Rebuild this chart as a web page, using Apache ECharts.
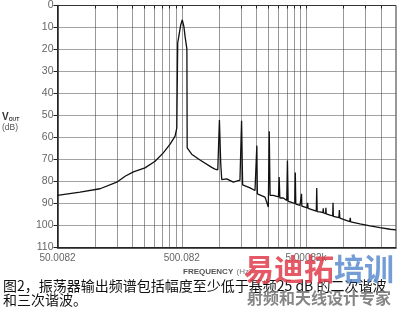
<!DOCTYPE html>
<html>
<head>
<meta charset="utf-8">
<style>
html,body{margin:0;padding:0;background:#fff;}
#chart{width:400px;height:311px;}
</style>
<script src="https://cdn.jsdelivr.net/npm/echarts@6/dist/echarts.min.js"></script>
</head>
<body>
<div id="chart"></div>
<script>
// Spectrum trace: frequency (Hz) and level (dB below reference)
var freqHz = [50.0082, 76, 110, 150, 175, 204, 253, 305, 355, 403, 442, 456, 464, 490, 505, 520, 531, 550, 553, 565, 601, 701, 871, 926, 975, 1005, 1030, 1049, 1150, 1300, 1470, 1515, 1545, 1564, 1772, 1943, 1990, 2010, 2030, 2066, 2339, 2487, 2530, 2570, 2728, 3000, 3040, 3080, 3283, 3500, 3545, 3590, 3730, 4060, 4100, 4140, 4475, 4570, 4600, 4630, 5100, 5150, 5200, 5385, 6050, 6100, 6150, 6485, 6850, 6880, 6920, 7200, 7230, 7270, 7805, 8200, 8250, 8300, 9200, 9280, 9360, 11250, 11350, 11450, 13600, 16370, 19700, 23700, 26500];
var levelDb = [86.3, 84.8, 83.3, 80.3, 77.6, 75.6, 73.8, 70.8, 67, 63, 59.4, 55.7, 17, 9, 6.5, 9.5, 13.8, 19.8, 64.7, 65.4, 67.6, 70.2, 73.6, 74.4, 74.7, 52, 72, 79.1, 78.8, 80.3, 79.4, 52.4, 81.5, 81.1, 82.9, 84.1, 85, 63.7, 85.6, 85.6, 87.1, 91.6, 57.2, 86.3, 86.3, 87, 78, 87.5, 87.5, 88.6, 70.5, 89, 89.3, 90, 75.9, 90.3, 90.8, 91, 85.6, 91.2, 92, 89.7, 92.2, 92.3, 93.5, 83, 93.7, 93.8, 94.2, 92.2, 94.3, 94.6, 92, 94.7, 95.3, 95.6, 89.7, 95.8, 96.4, 93, 96.6, 98.2, 96.5, 98.4, 99.3, 100.2, 101, 101.7, 102];

// Axis ticks
var xMin = 50.0082, xMax = 26500;
var xGridHz = [100.016, 150.025, 200.033, 250.041, 300.049, 350.057, 400.066, 450.074, 500.082,
               1000.16, 1500.25, 2000.33, 2500.41, 3000.49, 3500.57, 4000.66, 4500.74, 5000.82,
               10001.6, 15002.5, 20003.3];
var xLabelHz = [50.0082, 500.082, 5000.82];
var xLabelText = ['50.0082', '500.082', '5.00082k'];
var yMin = 0, yMax = 110, yStep = 10;
var yGridDb = [10, 20, 30, 40, 50, 60, 70, 80, 90, 100];

var traceData = freqHz.map(function (f, i) { return [f, levelDb[i]]; });
var lg = function (v) { return Math.log(v) / Math.LN10; };

// horizontal grid rules as broken line segments across the full frequency range
var hGridData = [];
yGridDb.forEach(function (v) {
  hGridData.push([xMin, v], [xMax, v], [xMax, '-']);
});

var chart = echarts.init(document.getElementById('chart'), null, {renderer: 'canvas'});
chart.setOption({
  animation: false,
  backgroundColor: '#fff',
  grid: {left: 57.5, top: 2.5, right: 4, bottom: 63.5, show: true, borderColor: '#333', borderWidth: 1, containLabel: false},
  xAxis: [{
    type: 'log', logBase: 10, min: xMin, max: xMax,
    axisLine: {show: true, onZero: false, lineStyle: {color: '#222', width: 1.5}},
    axisTick: {show: false},
    axisLabel: {
      show: true, customValues: xLabelHz, margin: 6, color: '#666', fontSize: 10, fontFamily: 'Liberation Sans',
      formatter: function (v) {
        var best = 0, d = Infinity;
        for (var i = 0; i < xLabelHz.length; i++) { var e = Math.abs(Math.log(v / xLabelHz[i])); if (e < d) { d = e; best = i; } }
        return xLabelText[best];
      }
    },
    splitLine: {show: false}
  }, {
    // decoration-only axis carrying the log-paper grid in log10 units
    type: 'value', position: 'bottom', min: lg(xMin), max: lg(xMax),
    axisLine: {show: false},
    axisTick: {show: true, customValues: xGridHz.map(lg), length: 3, lineStyle: {color: '#222', width: 1}},
    axisLabel: {show: false},
    splitLine: {show: true, lineStyle: {color: '#333', width: 1, type: 'dotted'}}
  }],
  yAxis: [{
    type: 'value', inverse: true, min: yMin, max: yMax, interval: yStep,
    axisLine: {show: true, onZero: false, lineStyle: {color: '#222', width: 1.5}},
    axisTick: {show: true, length: 4, lineStyle: {color: '#222', width: 1}},
    axisLabel: {color: '#666', fontSize: 10.5, fontFamily: 'Liberation Sans', margin: 4},
    splitLine: {show: false}
  }],
  series: [{
    name: 'grid', type: 'line', xAxisIndex: 0, yAxisIndex: 0, data: hGridData,
    showSymbol: false, symbol: 'none', silent: true, connectNulls: false,
    lineStyle: {color: '#444', width: 1, type: 'dotted'}, z: 1
  }, {
    type: 'line', xAxisIndex: 0, yAxisIndex: 0, data: traceData, showSymbol: false, symbol: 'none',
    lineStyle: {color: '#111', width: 1.3}, z: 5
  }],
  graphic: [
    {type: 'text', left: 2, top: 112, style: {
      text: '{b|V}{s|OUT}\n{n|(dB)}',
      rich: {
        b: {fontSize: 10, fontWeight: 'bold', fill: '#333', fontFamily: 'Liberation Sans', verticalAlign: 'bottom'},
        s: {fontSize: 5, fontWeight: 'bold', fill: '#333', fontFamily: 'Liberation Sans', verticalAlign: 'bottom'},
        n: {fontSize: 8.5, fill: '#555', fontFamily: 'Liberation Sans', lineHeight: 11}
      }
    }},
    {type: 'text', left: 183, top: 266, style: {
      text: '{b|FREQUENCY} {n|(Hz)}',
      rich: {
        b: {fontSize: 8, fontWeight: 'bold', fill: '#555', fontFamily: 'Liberation Sans'},
        n: {fontSize: 8, fill: '#777', fontFamily: 'Liberation Sans'}
      }
    }},
    {type: 'text', left: 3, top: 278, style: {
      text: '图2，振荡器输出频谱包括幅度至少低于基频25 dB 的二次谐波\n和三次谐波。',
      fontSize: 14, lineHeight: 14.5, fill: '#111', fontFamily: 'Noto Sans CJK SC'
    }},
    {type: 'text', left: 244, top: 254, z: 100, style: {
      text: '{r|易迪拓}{bl|培训}',
      rich: {
        r: {fontSize: 30, fontWeight: 'bold', fill: 'rgba(225,60,75,0.85)', fontFamily: 'Noto Sans CJK SC'},
        bl: {fontSize: 30, fontWeight: 'bold', fill: 'rgba(90,140,205,0.85)', fontFamily: 'Noto Sans CJK SC'}
      }
    }},
    {type: 'text', left: 247, top: 290, z: 100, style: {
      text: '射频和天线设计专家',
      fontSize: 16, fontWeight: 'bold', fill: 'rgba(120,120,120,0.9)', fontFamily: 'Noto Sans CJK SC'
    }}
  ]
});
</script>
</body>
</html>
